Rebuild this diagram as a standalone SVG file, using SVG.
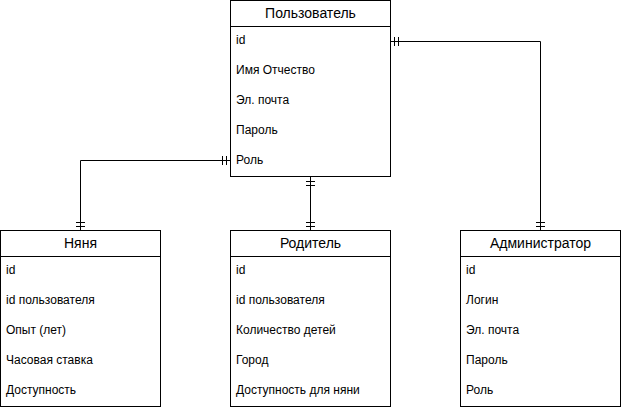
<svg xmlns="http://www.w3.org/2000/svg" width="621" height="410" viewBox="0 0 621 410">
<style>
.box{fill:#fff;stroke:#000;stroke-width:1}
.ln{fill:none;stroke:#000;stroke-width:1}
.t{font-family:"Liberation Sans",Arial,sans-serif;font-size:14px;fill:#000;text-anchor:middle}
.r{font-family:"Liberation Sans",Arial,sans-serif;font-size:12px;fill:#000}
</style>
<rect width="621" height="410" fill="#fff"/>
<g id="connectors">
<path class="ln" d="M230.5 160.5H80.5V230"/>
<path class="ln" d="M222.5 156v9M226.5 156v9M76 222.5h9M76 226.5h9"/>
<path class="ln" d="M390.5 41.5H540.5V230"/>
<path class="ln" d="M394.5 37v9M398.5 37v9M536 222.5h9M536 226.5h9"/>
<path class="ln" d="M310.5 176.5V230"/>
<path class="ln" d="M306 181.5h9M306 185.5h9M306 222.5h9M306 226.5h9"/>
</g>
<g id="user">
<rect class="box" x="230.5" y="0.5" width="160" height="176"/>
<path class="ln" d="M230.5 26.5H390.5"/>
<text class="t" x="310.5" y="18">Пользователь</text>
<text class="r" x="236" y="44">id</text>
<text class="r" x="236" y="74">Имя Отчество</text>
<text class="r" x="236" y="104">Эл. почта</text>
<text class="r" x="236" y="134">Пароль</text>
<text class="r" x="236" y="164">Роль</text>
</g>
<g id="nanny">
<rect class="box" x="0.5" y="230.5" width="160" height="176"/>
<path class="ln" d="M0.5 256.5H160.5"/>
<text class="t" x="80.5" y="248">Няня</text>
<text class="r" x="6" y="274">id</text>
<text class="r" x="6" y="304">id пользователя</text>
<text class="r" x="6" y="334">Опыт (лет)</text>
<text class="r" x="6" y="364">Часовая ставка</text>
<text class="r" x="6" y="394">Доступность</text>
</g>
<g id="parent">
<rect class="box" x="230.5" y="230.5" width="160" height="176"/>
<path class="ln" d="M230.5 256.5H390.5"/>
<text class="t" x="310.5" y="248">Родитель</text>
<text class="r" x="236" y="274">id</text>
<text class="r" x="236" y="304">id пользователя</text>
<text class="r" x="236" y="334">Количество детей</text>
<text class="r" x="236" y="364">Город</text>
<text class="r" x="236" y="394">Доступность для няни</text>
</g>
<g id="admin">
<rect class="box" x="460.5" y="230.5" width="160" height="176"/>
<path class="ln" d="M460.5 256.5H620.5"/>
<text class="t" x="540.5" y="248">Администратор</text>
<text class="r" x="466" y="274">id</text>
<text class="r" x="466" y="304">Логин</text>
<text class="r" x="466" y="334">Эл. почта</text>
<text class="r" x="466" y="364">Пароль</text>
<text class="r" x="466" y="394">Роль</text>
</g>
</svg>
